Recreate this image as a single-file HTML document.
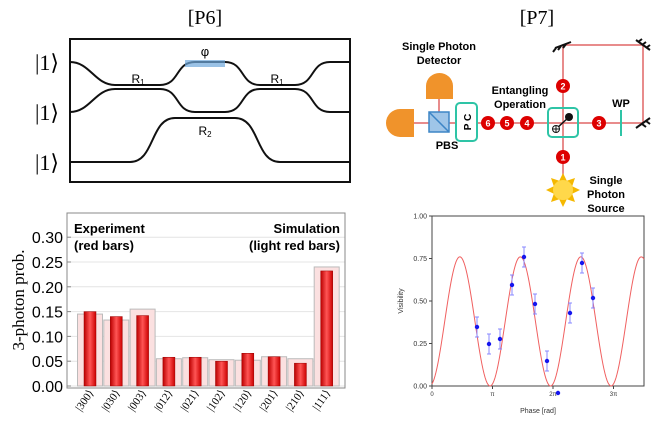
<!DOCTYPE html>
<html><head><meta charset="utf-8"><style>
html,body{margin:0;padding:0;background:#fff;}
svg{display:block;}
.s{font-family:"Liberation Serif",serif;}
.a{font-family:"Liberation Sans",sans-serif;}
.b{font-family:"Liberation Sans",sans-serif;font-weight:bold;}
</style></head><body>
<svg id="g" width="662" height="424" viewBox="0 0 662 424" xmlns="http://www.w3.org/2000/svg">
<text x="205" y="24" class="s" font-size="20" text-anchor="middle">[P6]</text>
<text x="537" y="24" class="s" font-size="20" text-anchor="middle">[P7]</text>
<!-- P6 waveguide -->
<rect x="70" y="39" width="280" height="143" fill="none" stroke="#111" stroke-width="2"/>
<g fill="none" stroke="#111" stroke-width="2">
<path d="M70 62 C90 62 95 85 115 85 L160 85 C180 85 175 62 195 62 L225 62 C245 62 240 85 260 85 L295 85 C315 85 310 62 330 62 L350 62"/>
<path d="M70 112 C90 112 95 89 115 89 L160 89 C180 89 175 112 195 112 L225 112 C245 112 240 89 260 89 L295 89 C315 89 310 112 330 112 L350 112"/>
<path d="M70 162 L130 162 C155 162 150 118 175 118 L235 118 C260 118 255 162 280 162 L350 162"/>
</g>
<rect x="185" y="60" width="40" height="7" fill="#6fa8dc" opacity="0.7"/>
<text x="205" y="56" class="a" font-size="13" text-anchor="middle">φ</text>
<text x="138" y="83" class="a" font-size="12" text-anchor="middle">R<tspan font-size="8" dy="2">1</tspan></text>
<text x="277" y="83" class="a" font-size="12" text-anchor="middle">R<tspan font-size="8" dy="2">1</tspan></text>
<text x="205" y="135" class="a" font-size="12" text-anchor="middle">R<tspan font-size="8" dy="2">2</tspan></text>
<g class="s" font-size="22"><text x="35" y="70">|1⟩</text><text x="35" y="120">|1⟩</text><text x="35" y="170">|1⟩</text></g>
<!-- bar chart -->
<g id="bars"></g>
<rect x="67" y="213" width="278" height="175" fill="none" stroke="#888" stroke-width="1"/>
<text x="74" y="233" class="b" font-size="13">Experiment</text>
<text x="74" y="250" class="b" font-size="13">(red bars)</text>
<text x="340" y="233" class="b" font-size="13" text-anchor="end">Simulation</text>
<text x="340" y="250" class="b" font-size="13" text-anchor="end">(light red bars)</text>
<text transform="translate(24 300) rotate(-90)" class="s" font-size="17" text-anchor="middle">3-photon prob.</text>
<!-- P7 diagram -->
<g stroke="#e06666" stroke-width="1.5" fill="none">
<path d="M413 123 L643 123 L643 45 L563 45 L563 178"/>
</g>
<g stroke="#111" stroke-width="2"><path d="M555 48 L571 42 M556 48 l-3 4 M561 46 l-3 4 M566 44 l-3 4"/><path d="M636 40 L650 50 M638 42 l4 -3 M642 45 l4 -3 M646 48 l4 -3"/><path d="M636 128 L650 118 M642 124 l4 3 M646 121 l4 3"/></g>
<path d="M414 109 L400 109 A14 14 0 0 0 400 137 L414 137 Z" fill="#f0932b"/>
<path d="M426 99 L426 86 A13.5 13 0 0 1 453 86 L453 99 Z" fill="#f0932b"/>
<line x1="439" y1="99" x2="439" y2="112" stroke="#e06666" stroke-width="1.5"/>
<rect x="429" y="112" width="20" height="20" fill="#9fc5e8" stroke="#3d85c6" stroke-width="1.5"/>
<line x1="429" y1="112" x2="449" y2="132" stroke="#3d85c6" stroke-width="1.5"/>
<rect x="456" y="103" width="21" height="38" rx="4" fill="#fff" stroke="#2ec4a6" stroke-width="2"/>
<text transform="translate(471 122) rotate(-90)" class="b" font-size="10" text-anchor="middle">P C</text>
<rect x="548" y="108" width="30" height="29" rx="4" fill="none" stroke="#2ec4a6" stroke-width="2"/>
<line x1="556" y1="129" x2="569" y2="117" stroke="#111" stroke-width="1.5"/>
<circle cx="569" cy="117" r="4" fill="#111"/>
<circle cx="556" cy="129" r="3.5" fill="#fff" stroke="#111"/><path d="M552.5 129 h7 M556 125.5 v7" stroke="#111"/>
<line x1="621" y1="110" x2="621" y2="136" stroke="#2ec4a6" stroke-width="2"/>
<g class="b" font-size="9" fill="#fff" text-anchor="middle">
<circle cx="488" cy="123" r="7" fill="#d00"/><text x="488" y="126.5">6</text>
<circle cx="507" cy="123" r="7" fill="#d00"/><text x="507" y="126.5">5</text>
<circle cx="527" cy="123" r="7" fill="#d00"/><text x="527" y="126.5">4</text>
<circle cx="599" cy="123" r="7" fill="#d00"/><text x="599" y="126.5">3</text>
<circle cx="563" cy="86" r="7" fill="#d00"/><text x="563" y="89.5">2</text>
<circle cx="563" cy="157" r="7" fill="#d00"/><text x="563" y="160.5">1</text>
</g>
<polygon id="sun" fill="#f5b800"/>
<circle cx="563" cy="190" r="10" fill="#ffd84a"/>
<g class="b" font-size="11" text-anchor="middle">
<text x="439" y="50">Single Photon</text><text x="439" y="64">Detector</text>
<text x="520" y="94">Entangling</text><text x="520" y="108">Operation</text>
<text x="447" y="149">PBS</text><text x="621" y="107">WP</text>
<text x="606" y="184">Single</text><text x="606" y="198">Photon</text><text x="606" y="212">Source</text>
</g>
<!-- visibility -->
<rect x="432" y="216" width="212" height="170" fill="none" stroke="#444" stroke-width="1"/>
<g id="vis"></g>
<text x="538" y="413" class="a" font-size="7" text-anchor="middle" fill="#333">Phase [rad]</text>
<text transform="translate(403 301) rotate(-90)" class="a" font-size="7" text-anchor="middle" fill="#333">Visibility</text>
</svg>
<script>
const NS="http://www.w3.org/2000/svg";
function el(p,t,a,txt){const e=document.createElementNS(NS,t);for(const k in a)e.setAttribute(k,a[k]);if(txt!=null)e.textContent=txt;p.appendChild(e);return e;}
const B=document.getElementById('bars');
const y0=386,sc=24.8/0.05;
for(let i=0;i<=6;i++){const v=i*0.05,y=y0-v*sc;el(B,'line',{x1:67,x2:345,y1:y,y2:y,stroke:'#e4e4e4'});el(B,'line',{x1:67,x2:71,y1:y,y2:y,stroke:'#888'});el(B,'text',{x:63,y:y+6,'text-anchor':'end','font-size':16,'font-family':'Liberation Sans'},v.toFixed(2));}
const sim=[.145,.133,.155,.055,.057,.053,.052,.059,.055,.24],ex=[.15,.14,.142,.058,.058,.05,.066,.059,.046,.232];
const labs=['300','030','003','012','021','102','120','201','210','111'];
const defs=el(document.getElementById('g'),'defs',{});
const lg=el(defs,'linearGradient',{id:'rg',x1:0,x2:1,y1:0,y2:0});
el(lg,'stop',{offset:'0','stop-color':'#b00'});el(lg,'stop',{offset:'0.5','stop-color':'#f55'});el(lg,'stop',{offset:'1','stop-color':'#c00'});
for(let i=0;i<10;i++){const cx=90+i*26.3;
el(B,'rect',{x:cx-12.5,y:y0-sim[i]*sc,width:25,height:sim[i]*sc,fill:'#fbe0e0',stroke:'#bbb'});
el(B,'rect',{x:cx-6,y:y0-ex[i]*sc,width:12,height:ex[i]*sc,fill:'url(#rg)',stroke:'#900','stroke-width':.5});
el(B,'text',{transform:`translate(${cx+4} ${393}) rotate(-55)`,'text-anchor':'end','font-size':11,'font-family':'Liberation Serif'},'|'+labs[i]+'⟩');}
// sun
let pts=[];for(let i=0;i<16;i++){const r=i%2?10:17,a=i*Math.PI/8;pts.push((563+r*Math.cos(a)).toFixed(1)+','+(190+r*Math.sin(a)).toFixed(1));}
document.getElementById('sun').setAttribute('points',pts.join(' '));
// vis
const V=document.getElementById('vis');
const X=p=>432+p*60.5/Math.PI,Y=v=>386-v*170;
[0,.25,.5,.75,1].forEach(v=>{el(V,'line',{x1:429,x2:432,y1:Y(v),y2:Y(v),stroke:'#444'});el(V,'text',{x:427,y:Y(v)+2.5,'text-anchor':'end','font-size':7,'font-family':'Liberation Sans',fill:'#333'},v.toFixed(2));});
['0','π','2π','3π'].forEach((t,i)=>{el(V,'line',{x1:X(i*Math.PI),x2:X(i*Math.PI),y1:386,y2:389,stroke:'#444'});el(V,'text',{x:X(i*Math.PI),y:396,'text-anchor':'middle','font-size':6,'font-family':'Liberation Sans',fill:'#333'},t);});
let d='';for(let x=432;x<=644;x+=1){const p=(x-432)/60.5*Math.PI;const v=0.38*(1+Math.cos(2*(p-0.46*Math.PI)*1.0));d+=(x==432?'M':'L')+x+' '+Y(v).toFixed(2);}
el(V,'path',{d:d,fill:'none',stroke:'#f06060','stroke-width':1});
const P=[[477,327],[489,344],[500,339],[512,285],[524,257],[535,304],[547,361],[558,393],[570,313],[582,263],[593,298]];
P.forEach(([x,y],i)=>{if(i!=7){el(V,'line',{x1:x,x2:x,y1:y-10,y2:y+10,stroke:'#8888ff'});el(V,'line',{x1:x-2,x2:x+2,y1:y-10,y2:y-10,stroke:'#8888ff'});el(V,'line',{x1:x-2,x2:x+2,y1:y+10,y2:y+10,stroke:'#8888ff'});}el(V,'circle',{cx:x,cy:y,r:2.2,fill:'#1515ee'});});
</script>
</body></html>
